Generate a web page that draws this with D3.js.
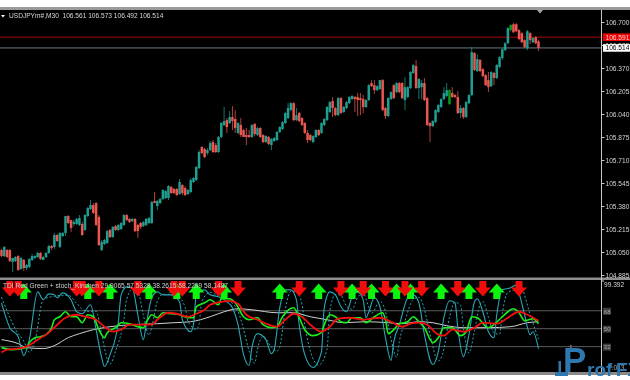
<!DOCTYPE html>
<html><head><meta charset="utf-8">
<script src="https://cdn.jsdelivr.net/npm/d3@7/dist/d3.min.js"></script>
<style>
html,body{margin:0;padding:0;background:#fff;overflow:hidden}
svg{display:block;filter:blur(0.35px)}
text{font-family:"Liberation Sans",Arial,sans-serif}
</style></head><body><div id="c"></div>
<script>
const opens=[105.064,105.021,105.064,105.064,104.978,104.985,105.021,104.928,104.993,104.935,
104.943,104.993,105.007,105.014,105.043,104.993,105.014,105.043,105.093,105.086,
105.172,105.086,105.165,105.186,105.308,105.279,105.251,105.251,105.244,105.251,
105.208,105.308,105.358,105.387,105.401,105.301,105.064,105.107,105.115,105.208,
105.157,105.236,105.208,105.215,105.244,105.315,105.287,105.272,105.287,105.244,
105.258,105.236,105.244,105.258,105.258,105.416,105.380,105.401,105.430,105.437,
105.437,105.516,105.502,105.502,105.466,105.530,105.509,105.466,105.480,105.552,
105.566,105.652,105.803,105.789,105.760,105.781,105.839,105.817,105.767,105.875,
105.961,105.996,105.975,106.018,106.004,105.904,105.961,105.925,105.889,105.889,
105.875,105.968,105.889,105.939,105.889,105.839,105.875,105.817,105.846,105.853,
105.911,105.932,105.975,106.011,106.068,106.118,105.996,106.047,106.011,105.975,
105.904,105.889,105.839,105.875,105.925,105.904,105.961,105.996,106.054,106.133,
106.083,106.032,106.154,106.054,106.083,106.118,106.147,106.162,106.162,106.154,
106.147,106.090,106.140,106.262,106.247,106.211,106.219,106.283,106.083,106.025,
106.147,106.247,106.197,106.262,106.262,106.140,106.162,106.226,106.334,106.384,
106.226,106.233,106.262,106.154,105.975,105.953,105.982,106.054,106.090,106.147,
106.169,106.111,106.190,106.176,106.162,106.047,106.083,106.018,106.118,106.176,
106.477,106.348,106.427,106.362,106.319,106.283,106.240,106.334,106.298,106.377,
106.441,106.498,106.548,106.642,106.684,106.684,106.642,106.620,106.570,106.512,
106.620,106.555,106.591,106.561];
const closes=[105.021,105.086,105.014,104.985,105.007,105.014,104.921,105.007,104.935,104.957,
105.000,105.021,105.021,105.043,105.000,105.014,105.043,105.093,105.079,105.172,
105.129,105.186,105.186,105.308,105.258,105.222,105.265,105.287,105.294,105.172,
105.315,105.365,105.387,105.330,105.244,105.100,105.122,105.136,105.200,105.157,
105.229,105.208,105.244,105.258,105.315,105.279,105.265,105.287,105.200,105.200,
105.229,105.265,105.287,105.294,105.408,105.401,105.416,105.430,105.494,105.487,
105.523,105.473,105.473,105.459,105.552,105.473,105.459,105.494,105.566,105.581,
105.660,105.767,105.760,105.731,105.781,105.832,105.767,105.767,105.875,105.975,
105.989,105.946,106.018,105.989,105.939,105.975,105.889,105.875,105.875,105.875,
105.961,105.896,105.939,105.875,105.839,105.882,105.825,105.860,105.868,105.911,
105.946,105.982,106.047,106.083,106.118,105.996,106.032,105.989,105.961,105.904,
105.853,105.853,105.882,105.925,105.889,105.975,106.004,106.090,106.125,106.083,
106.032,106.154,106.047,106.090,106.125,106.162,106.169,106.147,106.140,106.140,
106.090,106.140,106.247,106.240,106.211,106.240,106.283,106.068,106.025,106.154,
106.197,106.154,106.262,106.197,106.154,106.233,106.233,106.341,106.391,106.226,
106.291,106.262,106.140,105.961,105.953,105.989,106.068,106.104,106.147,106.190,
106.211,106.211,106.162,106.162,106.047,106.083,106.018,106.125,106.176,106.484,
106.355,106.434,106.348,106.312,106.247,106.233,106.341,106.298,106.391,106.448,
106.505,106.548,106.656,106.678,106.627,106.634,106.577,106.555,106.520,106.634,
106.570,106.584,106.548,106.514];
const highs=[105.072,105.093,105.072,105.072,105.007,105.021,105.028,105.014,105.000,104.964,
105.007,105.036,105.028,105.050,105.050,105.021,105.050,105.100,105.100,105.186,
105.179,105.193,105.193,105.308,105.315,105.279,105.279,105.294,105.315,105.265,
105.322,105.373,105.423,105.401,105.408,105.315,105.136,105.143,105.208,105.215,
105.236,105.244,105.251,105.265,105.322,105.322,105.294,105.294,105.294,105.251,
105.265,105.272,105.294,105.301,105.416,105.480,105.423,105.437,105.502,105.494,
105.530,105.523,105.509,105.509,105.574,105.537,105.523,105.502,105.581,105.588,
105.667,105.781,105.810,105.796,105.796,105.846,105.853,105.832,105.882,105.982,
106.090,106.011,106.061,106.097,106.068,105.982,106.011,105.932,105.939,105.925,
105.968,105.975,105.946,105.946,105.896,105.889,105.882,105.868,105.875,105.918,
105.953,105.989,106.054,106.118,106.125,106.125,106.083,106.054,106.018,105.982,
105.925,105.896,105.889,105.932,105.932,105.982,106.011,106.097,106.133,106.162,
106.090,106.162,106.162,106.097,106.133,106.169,106.176,106.169,106.190,106.190,
106.176,106.147,106.255,106.283,106.283,106.247,106.283,106.291,106.090,106.162,
106.204,106.255,106.269,106.269,106.269,106.305,106.240,106.348,106.398,106.427,
106.298,106.283,106.298,106.162,105.982,105.996,106.075,106.111,106.154,106.233,
106.262,106.219,106.233,106.183,106.204,106.104,106.090,106.133,106.183,106.520,
106.484,106.469,106.434,106.369,106.326,106.341,106.348,106.341,106.398,106.455,
106.512,106.555,106.663,106.684,106.692,106.692,106.648,106.627,106.577,106.642,
106.627,106.591,106.598,106.573];
const lows=[105.014,105.014,105.007,104.978,104.907,104.978,104.914,104.921,104.914,104.921,
104.935,104.985,105.000,105.007,104.993,104.993,105.007,105.036,105.064,105.072,
105.122,105.079,105.157,105.165,105.251,105.193,105.236,105.244,105.236,105.165,
105.200,105.301,105.351,105.322,105.236,105.093,105.057,105.100,105.107,105.150,
105.150,105.200,105.200,105.208,105.236,105.272,105.258,105.265,105.193,105.150,
105.215,105.229,105.236,105.251,105.251,105.401,105.351,105.394,105.423,105.430,
105.423,105.466,105.466,105.451,105.459,105.459,105.451,105.459,105.473,105.545,
105.559,105.645,105.753,105.724,105.745,105.774,105.760,105.760,105.760,105.868,
105.953,105.904,105.968,105.925,105.904,105.896,105.875,105.875,105.817,105.868,
105.868,105.882,105.882,105.868,105.832,105.832,105.817,105.781,105.839,105.846,
105.904,105.925,105.968,106.004,106.061,105.989,105.989,105.982,105.953,105.896,
105.832,105.846,105.832,105.868,105.882,105.896,105.953,105.989,106.047,106.018,
106.025,106.025,106.040,106.047,106.075,106.111,106.140,106.054,106.025,106.032,
106.047,106.083,106.133,106.233,106.183,106.204,106.211,106.061,106.004,106.018,
106.140,106.147,106.190,106.190,106.147,106.068,106.154,106.219,106.326,106.219,
106.147,106.147,106.133,105.953,105.839,105.946,105.975,106.047,106.083,106.140,
106.162,106.104,106.154,106.154,106.040,106.011,106.004,106.011,106.111,106.169,
106.348,106.341,106.341,106.305,106.240,106.197,106.233,106.247,106.291,106.369,
106.427,106.491,106.541,106.634,106.620,106.627,106.570,106.548,106.512,106.498,
106.541,106.548,106.541,106.492];
const brightBars=[161,183];

const priceTicks=[106.700,106.535,106.370,106.205,106.040,105.875,105.710,105.545,105.380,105.215,105.050,104.885];
const titleText="USDJPYm#,M30  106.561 106.573 106.492 106.514";
const askPrice=106.591, bidPrice=106.514;

const indTitle="TDI Red Green + stoch_Kinchen 29.9065 57.5328 38.2615 58.2299 58.1487";
const levels=[68,50,32];

const cyanBars=[0,3,6,8,10,13,15,17,19,20,22,25,27,29,32,34,36,37,39,42,43,45,47,49,51,52,54,56,58,61,64,65,68,69,70,73,75,78,81,83,85,87,89,90,92,95,97,98,100,102,104,106,107,109,112,115,116,118,120,122,124,126,128,130,131,132,134,136,138,140,141,143,146,148,150,152,155,157,159,161,163,164,166,168,170,171,173,175,177,178,180,183,185,186,188,190,191,193];
const cyanVals=[76.5,51.5,42.5,23.5,39.5,87.5,79.5,85.5,84.5,81.5,86.5,79.5,67.5,65.5,74.5,49.5,21.5,12.5,24.5,57.5,84.5,92.5,91.5,64.5,39.5,54.5,81.5,87.5,84.5,84.5,77.5,59.5,47.5,54.5,84.5,89.5,84.5,82.5,77.5,71.5,54.5,24.5,13.5,31.5,45.5,39.5,25.5,29.5,71.5,89.5,89.5,79.5,54.5,24.5,11.5,27.5,71.5,87.5,84.5,72.5,67.5,82.5,87.5,79.5,61.5,67.5,81.5,72.5,41.5,18.5,37.5,54.5,81.5,84.5,76.5,44.5,14.5,27.5,61.5,78.5,76.5,51.5,22.5,44.5,77.5,80.5,67.5,47.5,41.5,64.5,89.5,91.5,94.5,86.5,64.5,44.5,47.5,30.5];
const dashBars=[0,3,5,8,10,12,15,17,19,21,24,27,29,31,34,36,38,39,41,44,45,47,49,51,53,54,56,58,60,63,66,67,70,71,72,75,77,80,83,85,87,89,91,92,94,97,99,100,102,104,106,108,109,111,114,117,118,120,122,124,126,128,130,132,133,136,138,140,142,143,145,148,150,152,154,157,159,161,163,165,166,168,170,172,173,175,177,179,180,182,185,187,188,190,192,193];
const dashVals=[82,62,50,38,27,38,80,82,83,84,84,76,70,68,68,45,20,15,28,60,80,90,88,64,44,52,78,85,85,84,72,58,50,55,78,87,85,82,76,68,50,28,16,30,43,32,28,32,70,88,88,75,55,28,14,30,68,85,84,73,70,82,86,72,66,78,68,40,22,38,58,80,82,70,45,18,30,62,77,74,52,26,48,75,78,62,46,45,66,87,90,93,84,65,48,40];
const greenBarsIdx=[0,4,7,9,10,12,14,16,18,19,21,23,25,27,29,31,33,35,37,38,41,43,46,49,51,52,54,56,58,61,64,67,69,70,73,75,78,79,82,84,87,89,92,94,97,99,101,105,107,109,112,115,116,118,120,122,124,126,129,131,134,137,138,139,141,143,146,148,150,152,155,157,159,162,165,167,169,171,175,177,180,184,186,188,191,193];
const greenVals=[31.5,29.5,30.5,31.5,36.5,41.5,42.5,44.5,51.5,59.5,62.5,67.5,62.5,62.5,56.5,64.5,62.5,49.5,41.5,46.5,51.5,56.5,55.5,52.5,51.5,56.5,64.5,61.5,66.5,65.5,64.5,61.5,61.5,72.5,76.5,79.5,74.5,80.5,80.5,76.5,62.5,59.5,61.5,54.5,51.5,52.5,62.5,71.5,61.5,49.5,43.5,46.5,54.5,64.5,62.5,57.5,56.5,61.5,61.5,56.5,62.5,66.5,59.5,45.5,49.5,55.5,57.5,62.5,57.5,51.5,36.5,41.5,51.5,51.5,43.5,47.5,62.5,61.5,51.5,54.5,62.5,70.5,66.5,58.5,60.5,55.5];
const redBarsIdx=[0,2,6,9,13,17,20,23,27,30,34,37,40,43,46,50,54,56,60,63,67,70,73,75,79,82,85,88,92,96,99,102,105,108,111,115,118,121,125,130,136,140,144,147,150,153,157,159,162,166,170,173,178,182,186,189,193];
const redVals=[26.5,29.5,30.5,32.5,39.5,46.5,54.5,61.5,64.5,62.5,59.5,52.5,47.5,49.5,54.5,54.5,54.5,59.5,66.5,65.5,62.5,65.5,69.5,74.5,77.5,78.5,75.5,64.5,59.5,54.5,52.5,59.5,65.5,62.5,54.5,47.5,52.5,60.5,61.5,59.5,61.5,57.5,52.5,55.5,56.5,54.5,44.5,43.5,49.5,47.5,51.5,56.5,55.5,61.5,67.5,64.5,58.5];
const whiteBarsIdx=[0,6,9,15,19,24,28,33,39,47,56,62,68,75,80,85,90,99,105,111,117,123,131,139,144,150,155,160,166,175,183,189,193];
const whiteVals=[39.5,35.5,31.5,30.5,33.5,41.5,45.5,49.5,52.5,54.5,55.5,56.5,57.5,62.5,67.5,70.5,69.5,66.5,66.5,62.5,59.5,56.5,57.5,56.5,55.5,57.5,56.5,53.5,51.5,51.5,52.5,56.5,57.5];
const arrowsDown=[3,6,27,29,35,49,62,65,78,85,107,122,130,138,145,151,164,173,186];
const arrowsUp=[8,31,39,53,63,70,80,100,114,126,133,142,147,158,168,178];

const W=630,H=380,FS=6.6;
const svg=d3.select("#c").append("svg").attr("width",W).attr("height",H);
svg.append("rect").attr("width",W).attr("height",H).attr("fill","#fff");
svg.append("rect").attr("y",9).attr("width",W).attr("height",366).attr("fill","#000");
svg.append("rect").attr("y",7).attr("width",W).attr("height",3).attr("fill","#9a9a9a");
svg.append("rect").attr("y",372).attr("width",W).attr("height",3).attr("fill","#8a8a8a");
svg.append("rect").attr("y",277.5).attr("width",W).attr("height",2.5).attr("fill","#8f8f8f");

const bars=d3.range(opens.length);
const x=d3.scaleLinear().domain([0,193]).range([1.5,538.5]);
const y=d3.scaleLinear().domain([104.885,106.700]).range([275,22]);
const yI=d3.scaleLinear().domain([7.013,99.392]).range([372,280]);
const teal="#1f9f90",redC="#ea5750";

// price lines
svg.append("line").attr("x1",0).attr("x2",601).attr("y1",y(askPrice)).attr("y2",y(askPrice)).attr("stroke","#a80808");
svg.append("line").attr("x1",0).attr("x2",601).attr("y1",y(bidPrice)).attr("y2",y(bidPrice)).attr("stroke","#6d7884");

// candles
const col=i=>brightBars.includes(i)?"#0a9a1a":(closes[i]>=opens[i]?teal:redC);
const cg=svg.append("g");
cg.selectAll("rect.w").data(bars).join("rect").attr("class","w")
 .attr("x",i=>x(i)-0.5).attr("width",1)
 .attr("y",i=>y(highs[i])).attr("height",i=>y(lows[i])-y(highs[i]))
 .attr("fill",col).attr("opacity",.75);
cg.selectAll("rect.b").data(bars).join("rect").attr("class","b")
 .attr("x",i=>x(i)-1.25).attr("width",2.5)
 .attr("y",i=>y(Math.max(opens[i],closes[i])))
 .attr("height",i=>Math.max(1,Math.abs(y(opens[i])-y(closes[i]))))
 .attr("fill",col);

// title
svg.append("path").attr("d",d3.line()([[1,15],[5,15],[3,17.5]])+"Z").attr("fill","#fff");
svg.append("text").attr("x",9).attr("y",18).attr("font-size",FS).attr("fill","#d8d8d8").style("white-space","pre").text(titleText);

// top scroll marker
svg.append("path").attr("d",d3.line()([[537,10],[543,10],[540,13.5]])+"Z").attr("fill","#9aa4ae");

// indicator levels
svg.append("g").selectAll("line").data(levels).join("line")
 .attr("x1",0).attr("x2",601).attr("y1",d=>yI(d)-0.5).attr("y2",d=>yI(d)-0.5).attr("stroke","#5c5c5c");

// indicator lines
const ln=d3.line().x(d=>x(d[0])).y(d=>yI(d[1])).curve(d3.curveMonotoneX);
const zipS=(a,b)=>a.map((v,i)=>[v,b[i]]);
const pane=svg.append("g");
pane.append("path").attr("d",ln(zipS(whiteBarsIdx,whiteVals))).attr("fill","none").attr("stroke","#d0d0d0").attr("stroke-width",1);
pane.append("path").attr("d",ln(zipS(dashBars,dashVals))).attr("fill","none").attr("stroke","#2aa7b5").attr("stroke-width",1).attr("stroke-dasharray","2,2");
pane.append("path").attr("d",ln(zipS(cyanBars,cyanVals))).attr("fill","none").attr("stroke","#2aa7b5").attr("stroke-width",1.1);
pane.append("path").attr("d",ln(zipS(greenBarsIdx,greenVals))).attr("fill","none").attr("stroke","#19f019").attr("stroke-width",1.6);
pane.append("path").attr("d",ln(zipS(redBarsIdx,redVals))).attr("fill","none").attr("stroke","#f01010").attr("stroke-width",1.8);

// arrows
const arrowShape=d3.line()([[-3.5,-8],[3.5,-8],[3.5,-1.5],[8,-1.5],[0,7.5],[-8,-1.5],[-3.5,-1.5]])+"Z";
const arrowUpShape=d3.line()([[-3.5,8],[3.5,8],[3.5,1.5],[8,1.5],[0,-7.5],[-8,1.5],[-3.5,1.5]])+"Z";
const ag=svg.append("g");
ag.selectAll("path.u").data(arrowsUp).join("path").attr("class","u").attr("d",arrowUpShape)
 .attr("transform",d=>`translate(${x(d)},291)`).attr("fill","#0cf50c");
ag.selectAll("path.d").data(arrowsDown).join("path").attr("class","d").attr("d",arrowShape)
 .attr("transform",d=>`translate(${x(d)},289)`).attr("fill","#f20d0d");

svg.append("text").attr("x",3).attr("y",287.5).attr("font-size",FS).attr("fill","#cfcfcf").attr("textLength",225).text(indTitle);

// axis panel
svg.append("rect").attr("x",601.5).attr("y",10).attr("width",28.5).attr("height",362).attr("fill","#000");
svg.append("rect").attr("x",601.5).attr("y",277.5).attr("width",28.5).attr("height",2.5).attr("fill","#8f8f8f");
svg.append("line").attr("x1",601.5).attr("x2",601.5).attr("y1",10).attr("y2",372).attr("stroke","#c8c8c8");

const axG=svg.append("g").attr("transform","translate(601.5,0)")
 .call(d3.axisRight(y).tickValues(priceTicks).tickSize(3).tickPadding(1).tickFormat(d3.format(".3f")));
axG.select(".domain").remove();
axG.selectAll("line").attr("stroke","#c8c8c8");
axG.selectAll("text").attr("font-size",FS).attr("fill","#d4d4d4").attr("font-family","Liberation Sans");

// price tags
const tags=[[askPrice,"#f00000","#f4d0d0"],[bidPrice,"#ffffff","#000"]];
tags.forEach(([p,bg,fg])=>{
 svg.append("rect").attr("x",603).attr("y",y(p)-3.8).attr("width",27).attr("height",7.6).attr("fill",bg);
 svg.append("text").attr("x",605.5).attr("y",y(p)+2.4).attr("font-size",FS).attr("fill",fg).text(d3.format(".3f")(p));
});

// indicator axis labels
svg.append("text").attr("x",604).attr("y",287).attr("font-size",FS).attr("fill","#d4d4d4").text("99.392");
svg.append("line").attr("x1",601.5).attr("x2",604).attr("y1",281).attr("y2",281).attr("stroke","#c8c8c8");
levels.forEach(l=>{
 svg.append("rect").attr("x",603).attr("y",yI(l)-3.5).attr("width",8).attr("height",7).attr("fill","#3c3c3c");
 svg.append("text").attr("x",603.8).attr("y",yI(l)+2.3).attr("font-size",6).attr("fill","#a8a8a8").text(l);
});
svg.append("text").attr("x",608).attr("y",370).attr("font-size",FS).attr("fill","#b0b0b0").text("7.013");

// watermark
const wm="#2d78ae";
const wg=svg.append("g");
wg.append("rect").attr("x",555).attr("y",372).attr("width",13).attr("height",4).attr("fill",wm);
wg.append("rect").attr("x",558.5).attr("y",361).attr("width",2.5).attr("height",12).attr("fill",wm);
wg.append("rect").attr("x",570).attr("y",345).attr("width",1.5).attr("height",6).attr("fill","#777");
wg.append("text").attr("x",563).attr("y",372).attr("font-size",35).attr("font-weight",700).attr("fill",wm).text("P");
wg.append("text").attr("x",587).attr("y",376).attr("font-size",19).attr("font-weight",700).attr("fill",wm).text("rof");
wg.append("text").attr("x",616).attr("y",376).attr("font-size",19).attr("font-weight",700).attr("fill",wm).text("FX");
</script></body></html>
